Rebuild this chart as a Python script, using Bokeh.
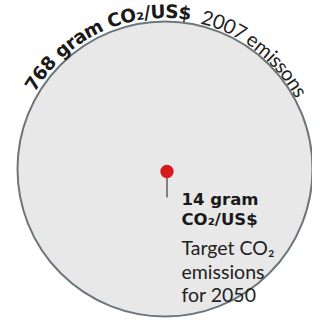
import math
from bokeh.plotting import figure
from bokeh.models import Range1d, ColumnDataSource
from bokeh.core.properties import value
from bokeh.embed import file_html
from bokeh.resources import INLINE

# ---- data ----
emissions_2007 = 768
target_2050 = 14
unit_label = "gram CO₂/US$"
arc_bold = f"{emissions_2007} {unit_label}"
arc_regular = "2007 emissons"
target_bold = [f"{target_2050} gram", "CO₂/US$"]
target_regular = ["Target CO₂", "emissions", "for 2050"]

# ---- layout / style (pixel space, y measured downward, drawn as -y) ----
W, H = 312, 318
CX, CY, R_BIG = 164.5, 168.5, 147.5
PIN_X, PIN_Y = 166.5, 171.0
BOLD_FONT = value("DejaVu Sans")
REG_FONT = value("Lato")

DJB = {'7': .696, '6': .696, '8': .696, '1': .696, '4': .696, ' ': .348, 'g': .716, 'r': .493,
       'a': .675, 'm': 1.042, 'C': .734, 'O': .850, '₂': .44, '/': .365, 'U': .812,
       'S': .720, '$': .696}
LATO = {'2': .58, '0': .58, '7': .58, ' ': .193, 'e': .523, 'm': .862, 'i': .234,
        's': .398, 'o': .562, 'n': .562}

p = figure(width=W, height=H, output_backend="svg", toolbar_location=None,
           x_range=Range1d(0, W), y_range=Range1d(-H, 0), min_border=0)
p.axis.visible = False
p.grid.visible = False
p.outline_line_color = None
p.background_fill_color = "white"
p.border_fill_color = "white"

# big circle (2007 emissions)
p.circle(x=[CX], y=[-CY], radius=R_BIG, fill_color="#e8e8e8",
         line_color="#6b777c", line_width=2)

# pin for the 2050 target
p.segment(x0=[PIN_X], y0=[-PIN_Y], x1=[PIN_X], y1=[-PIN_Y - 26],
          line_color="#666666", line_width=1.6)
p.circle(x=[PIN_X], y=[-PIN_Y], radius=6.7, fill_color="#d7191c", line_color=None)


def arc_source(text, widths, fs, theta0_deg, theta1_deg, radius):
    total = sum(widths.get(ch, 0.6) * fs for ch in text)
    span = math.radians(theta1_deg - theta0_deg) * radius
    k = span / total
    xs, ys, ts, angs = [], [], [], []
    s = 0.0
    for ch in text:
        w = widths.get(ch, 0.6) * fs * k
        mid = s + w / 2
        th = math.radians(theta0_deg) + mid / radius
        xs.append(CX + radius * math.sin(th))
        ys.append(-CY + radius * math.cos(th))
        ts.append(ch)
        angs.append(-th)
        s += w
    return ColumnDataSource(dict(x=xs, y=ys, text=ts, angle=angs))


src_b = arc_source(arc_bold, DJB, 18.5, -59.5, 9.6, R_BIG + 10)
p.text(x="x", y="y", text="text", angle="angle", source=src_b,
       text_font=BOLD_FONT, text_font_style="bold", text_font_size="18.5px",
       text_color="#1a1a1a", text_align="center", text_baseline="alphabetic")

src_r = arc_source(arc_regular, LATO, 20, 13.6, 61.7, R_BIG + 9)
p.text(x="x", y="y", text="text", angle="angle", source=src_r,
       text_font=REG_FONT, text_font_size="20px",
       text_color="#222222", text_align="center", text_baseline="alphabetic")

# target labels
p.text(x=[181, 181], y=[-199, -218.5], text=target_bold,
       text_font=BOLD_FONT, text_font_style="bold", text_font_size="16.5px",
       text_color="#1a1a1a", text_align="left", text_baseline="alphabetic")
p.text(x=[181, 181, 181], y=[-247, -270.5, -294], text=target_regular,
       text_font=REG_FONT, text_font_size="19.5px",
       text_color="#222222", text_align="left", text_baseline="alphabetic")

open("out.html", "w").write(file_html(p, INLINE))
